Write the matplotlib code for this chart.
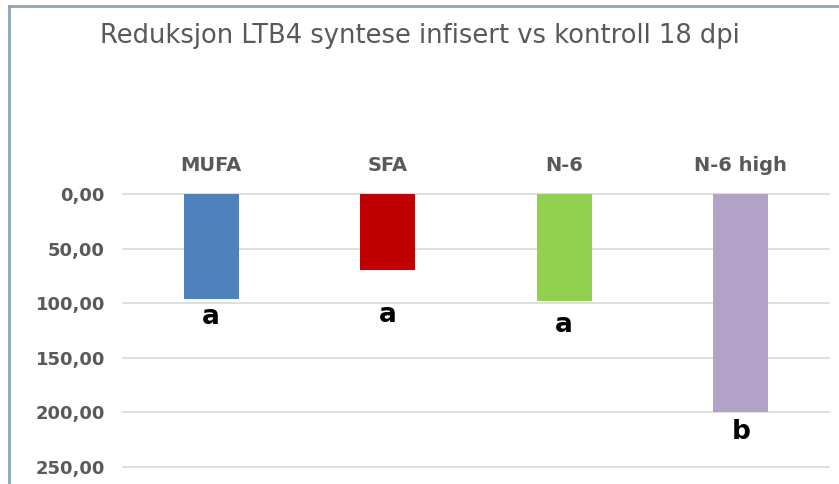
import matplotlib
matplotlib.use("Agg")
import matplotlib.pyplot as plt
from matplotlib.lines import Line2D

# data
categories = ["MUFA", "SFA", "N-6", "N-6 high"]
reduction = [96, 70, 98, 200]
letters = ["a", "a", "a", "b"]
letter_y = [113, 111, 120, 218]
colors = ["#4F81BD", "#C00000", "#92D050", "#B3A2C7"]
yticks = [0, 50, 100, 150, 200, 250]

plt.rcParams['font.family'] = ['DejaVu Sans']

fig = plt.figure(figsize=(8.39, 4.84), dpi=100)
ax = fig.add_axes([123 / 839, 1 - 467 / 484, (829 - 123) / 839, (467 - 194) / 484])

x = list(range(len(categories)))
ax.bar(x, reduction, width=0.31, color=colors, zorder=3)

for xi, lab, ly in zip(x, letters, letter_y):
    ax.text(xi, ly, lab, ha="center", va="center", fontsize=19,
            fontweight="bold", color="black", zorder=4)

ax.set_xlim(-0.5, len(categories) - 0.5)
ax.set_ylim(250, 0)
ax.set_yticks(yticks)
ax.set_yticklabels([f"{v:.2f}".replace(".", ",") for v in yticks],
                   fontsize=13, fontweight="bold", color="#595959")
ax.xaxis.tick_top()
ax.set_xticks(x)
ax.set_xticklabels(categories, fontsize=14, fontweight="bold", color="#595959")
ax.tick_params(axis="both", length=0)
ax.tick_params(axis="x", pad=14)
ax.tick_params(axis="y", pad=13)
ax.yaxis.grid(True, color="#D9D9D9", linewidth=1.2, zorder=0, clip_on=False)
for s in ax.spines.values():
    s.set_visible(False)

fig.text(420 / 839, 1 - 36 / 484, "Reduksjon LTB4 syntese infisert vs kontroll 18 dpi",
         ha="center", va="center", fontsize=18.5, color="#595959")

# chart frame (left and top edges visible in the crop)
fig.add_artist(Line2D([9 / 839, 9 / 839], [0, 1 - 6 / 484], transform=fig.transFigure,
                      color="#8DA5BC", linewidth=2))
fig.add_artist(Line2D([9 / 839, 1], [1 - 6 / 484, 1 - 6 / 484], transform=fig.transFigure,
                      color="#8DA5BC", linewidth=2))

fig.savefig("out.png", dpi=100)
